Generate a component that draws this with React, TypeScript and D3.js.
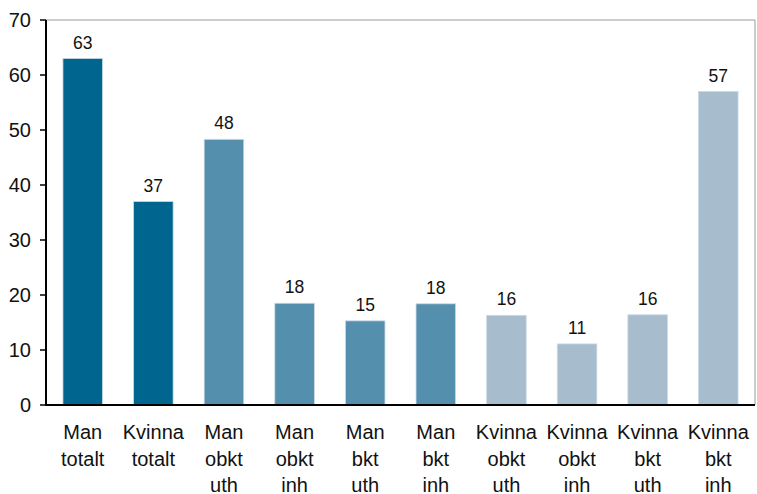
import React from "react";
import * as d3 from "d3";

const categories: string[][] = [
  ["Man", "totalt"],
  ["Kvinna", "totalt"],
  ["Man", "obkt", "uth"],
  ["Man", "obkt", "inh"],
  ["Man", "bkt", "uth"],
  ["Man", "bkt", "inh"],
  ["Kvinna", "obkt", "uth"],
  ["Kvinna", "obkt", "inh"],
  ["Kvinna", "bkt", "uth"],
  ["Kvinna", "bkt", "inh"],
];
const values: number[] = [63, 37, 48.3, 18.5, 15.3, 18.4, 16.3, 11.1, 16.4, 57.0];
const labels: string[] = ["63", "37", "48", "18", "15", "18", "16", "11", "16", "57"];
const groups: number[] = [0, 0, 1, 1, 1, 1, 2, 2, 2, 2];
const groupColors: string[] = ["#00668f", "#548fae", "#a7bccd"];
const yTicks: number[] = [0, 10, 20, 30, 40, 50, 60, 70];

const W = 757;
const H = 494;
const left = 46;
const right = 755;
const top = 20;
const bottom = 405;
const font = "'Liberation Sans', Arial, Helvetica, sans-serif";

export default function App() {
  const x = d3
    .scaleBand<number>()
    .domain(d3.range(categories.length))
    .range([left, right])
    .paddingInner(0.44)
    .paddingOuter(0.24);
  const y = d3.scaleLinear().domain([0, 70]).range([bottom, top]);

  return (
    <svg
      width={W}
      height={H}
      style={{ position: "absolute", left: 0, top: 0, fontFamily: font }}
    >
      <rect x={0} y={0} width={W} height={H} fill="#fff" />
      {/* frame */}
      <line x1={left} x2={right} y1={y(70)} y2={y(70)} stroke="#9a9a9a" strokeWidth={1} />
      <line x1={right} x2={right} y1={y(70)} y2={bottom} stroke="#9a9a9a" strokeWidth={1} />
      {values.map((v, i) => (
        <g key={i}>
          <rect
            x={x(i)!}
            y={y(v)}
            width={x.bandwidth()}
            height={bottom - y(v)}
            fill={groupColors[groups[i]]}
            stroke="#c9d9e4"
            strokeWidth={0.8}
          />
          <text
            x={x(i)! + x.bandwidth() / 2}
            y={y(v) - 10}
            textAnchor="middle"
            fontSize={17.5}
            fill="#111"
          >
            {labels[i]}
          </text>
          <text
            x={x(i)! + x.bandwidth() / 2}
            textAnchor="middle"
            fontSize={20}
            fill="#111"
          >
            {categories[i].map((t, j) => (
              <tspan key={j} x={x(i)! + x.bandwidth() / 2} y={439 + j * 26.5}>
                {t}
              </tspan>
            ))}
          </text>
        </g>
      ))}
      {/* axes */}
      <line x1={left} x2={left} y1={y(70)} y2={bottom} stroke="#000" strokeWidth={2} />
      <line x1={left - 1} x2={right} y1={bottom} y2={bottom} stroke="#000" strokeWidth={2} />
      {yTicks.map((t) => (
        <g key={t}>
          <line x1={left - 6} x2={left} y1={y(t)} y2={y(t)} stroke="#000" strokeWidth={1.5} />
          <text
            x={31}
            y={y(t)}
            dy="0.35em"
            textAnchor="end"
            fontSize={20}
            fill="#111"
          >
            {t}
          </text>
        </g>
      ))}
    </svg>
  );
}
